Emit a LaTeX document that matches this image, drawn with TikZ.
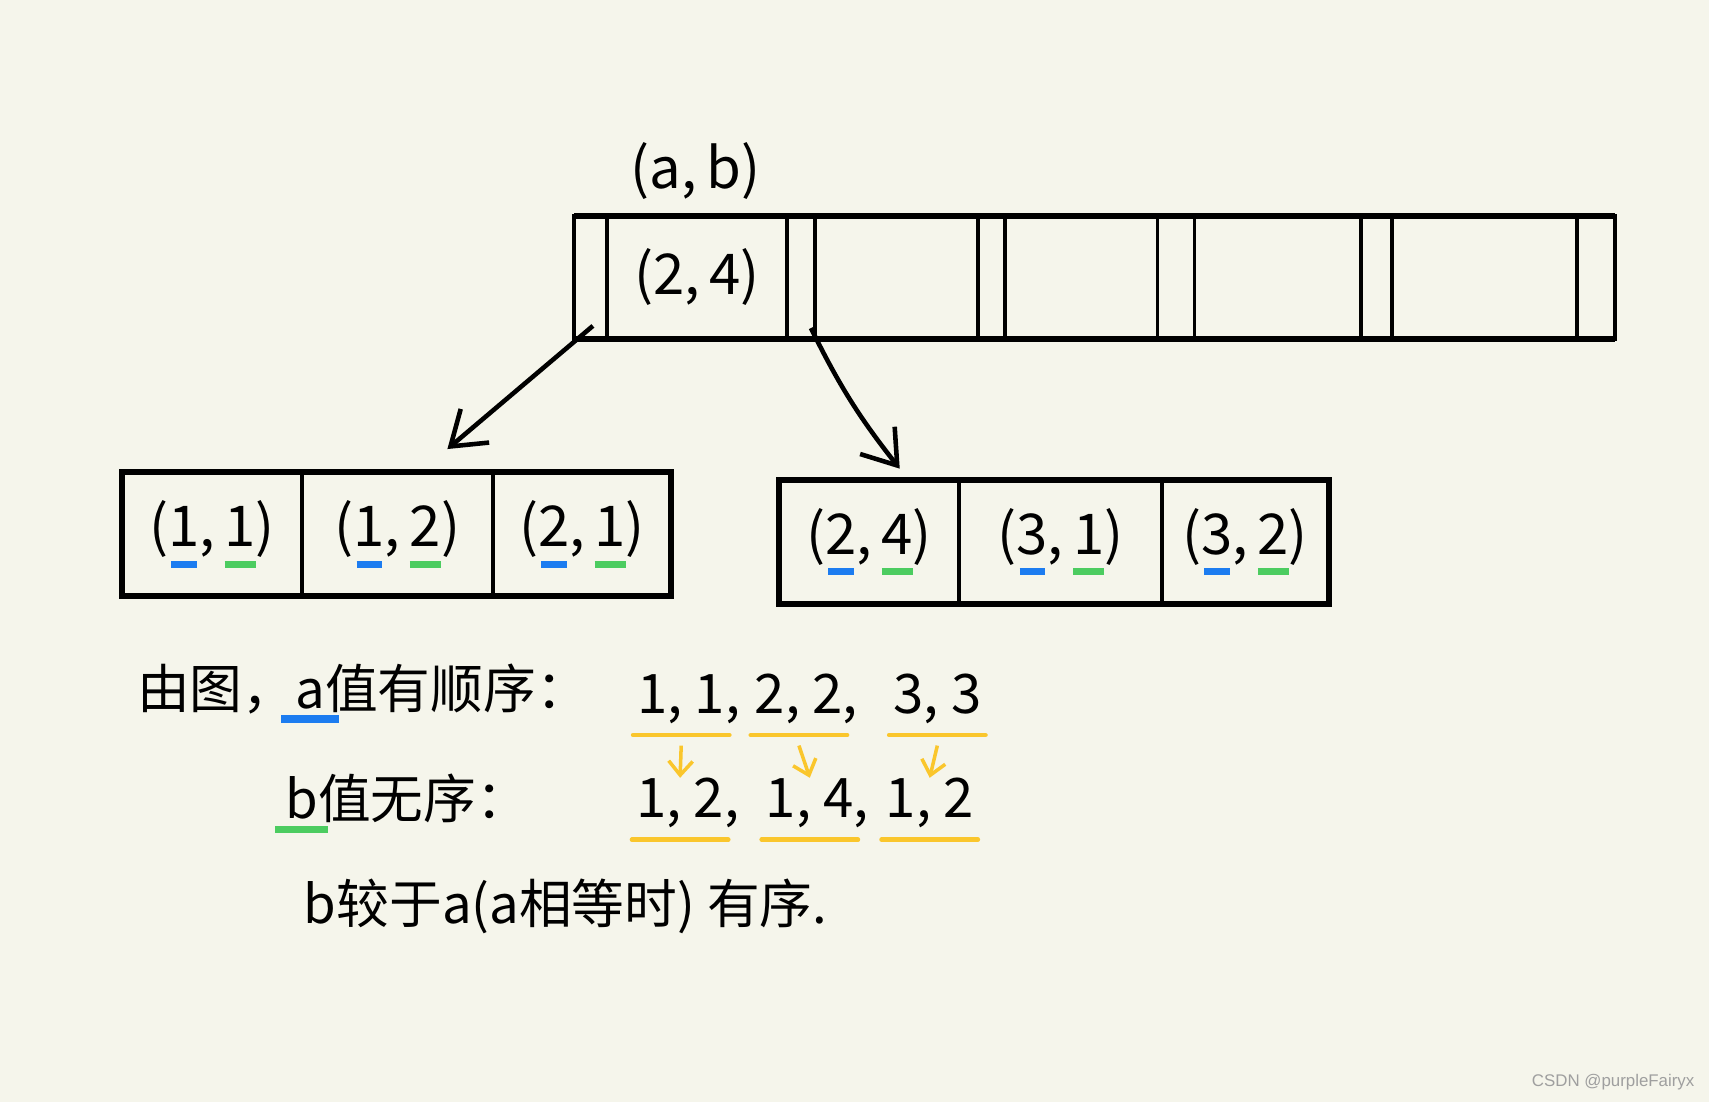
\documentclass[tikz,border=0pt]{standalone}
\usepackage{fontspec}
\usepackage{xcolor}
\newfontfamily\cjk{Noto Sans CJK SC}
\newfontfamily\wmfont{Liberation Sans}
\usetikzlibrary{arrows.meta,positioning,calc}
\definecolor{paper}{RGB}{245,245,235}
\definecolor{ublue}{RGB}{28,124,240}
\definecolor{ugreen}{RGB}{76,204,96}
\definecolor{uyellow}{RGB}{250,198,44}
\newcommand{\pxl}{0.0109cm}
% coloured dash under one character: [raise]{colour}{width}{text}
\newcommand{\undermark}[4][-6pt]{\setbox0\hbox{#4}\rlap{\hbox to\wd0{\hss\textcolor{#2}{\rule[#1]{#3}{2pt}}\hss}}\box0}

\begin{document}
\begin{tikzpicture}[x=\pxl, y=-\pxl, font=\cjk,
  cell/.style={draw, line width=1.1pt, inner sep=0pt, outer sep=0pt, font=\cjk\fontsize{16}{19}\selectfont},
  slot/.style={cell, minimum height=113*\pxl},
  box/.style={cell, minimum height=114*\pxl},
  rim/.style={line width=1.7pt},
  link/.style={-{Straight Barb[length=3.2mm,width=4.4mm]}, line width=1.3pt},
  txt/.style={inner sep=1pt, font=\cjk\fontsize{15}{18}\selectfont},
  num/.style={inner sep=1pt, text height=0.72em, text depth=0.2em, font=\cjk\fontsize{15.5}{18}\selectfont},
  ymark/.style={uyellow, line width=1.3pt, line cap=round},
  yarrow/.style={-{Straight Barb[length=1.4mm,width=2.4mm]}, uyellow, line width=1pt}
]
\useasboundingbox[fill=paper] (0,0) rectangle (1568,1011);

% top row of keys and pointer slots
\node[txt, font=\cjk\fontsize{16}{19}\selectfont] (ab) at (638,157) {(a,\,b)};
\foreach \n/\c/\w in {p0/542/30, k1/639.5/165, p1/735/26, k2/822.5/149, p2/909.5/25,
    k3/992/140, p3/1079/34, k4/1172.5/153, p4/1263/28, k5/1362/170, p5/1464.5/35}
  \node[slot, minimum width=\w*\pxl] (\n) at (\c,254.5) {};
\node[txt, font=\cjk\fontsize{16}{19}\selectfont] (kt) at (k1) {(2,\,4)};
\draw[rim] (p0.north west) -- (p5.north east) (p0.south west) -- (p5.south east);

% left child
\node[box, minimum width=165*\pxl] (c1) at (194.5,490) {(\undermark{ublue}{0.45em}{1},\,\undermark{ugreen}{0.55em}{1})};
\node[box, minimum width=175*\pxl] (c2) at (364.5,490) {(\undermark{ublue}{0.45em}{1},\,\undermark{ugreen}{0.55em}{2})};
\node[box, minimum width=164*\pxl] (c3) at (534,490) {(\undermark{ublue}{0.45em}{2},\,\undermark{ugreen}{0.55em}{1})};
\draw[rim] (c1.north west) rectangle (c3.south east);

% right child
\node[box, minimum width=165*\pxl] (d1) at (797.5,497) {(\undermark{ublue}{0.45em}{2},\,\undermark{ugreen}{0.55em}{4})};
\node[box, minimum width=186*\pxl] (d2) at (973,497) {(\undermark{ublue}{0.45em}{3},\,\undermark{ugreen}{0.55em}{1})};
\node[box, minimum width=153*\pxl] (d3) at (1142.5,497) {(\undermark{ublue}{0.45em}{3},\,\undermark{ugreen}{0.55em}{2})};
\draw[rim] (d1.north west) rectangle (d3.south east);

\draw[link] ($(p0.south)+(2,-12)$) -- ($(c2.north)+(46,-21)$);
\draw[link] ($(p1.south)+(9,-10)$) to[bend right=6] ($(d1.north)+(28,-10)$);

% notes
\node[txt, anchor=west] (r1) at (122,636) {由图，\undermark[-4pt]{ublue}{1.1em}{a}值有顺序：};
\node[txt, anchor=west] (r2) at (258,737) {\undermark[-4pt]{ugreen}{1em}{b}值无序：};
\node[txt, anchor=west] (r3) at (275,832) {b较于a(a相等时) 有序.};

\node[num] (a1) at (625,646) {1, 1\rlap{,}};
\node[num] (a2) at (733,646) {2, 2\rlap{,}};
\node[num] (a3) at (860,646) {3, 3};
\node[num] (b1) at (624,742) {1, 2\rlap{,}};
\node[num] (b2) at (743,742) {1, 4\rlap{,}};
\node[num] (b3) at (853,742) {1, 2};
\foreach \g in {a1,a2,a3,b1,b2,b3}
  \draw[ymark] ([yshift=-3pt]\g.south west) -- ([yshift=-3pt]\g.south east);
\foreach \g/\h in {a1/b1,a2/b2,a3/b3}
  \draw[yarrow] ([yshift=-6pt]\g.south) -- ([yshift=3pt]\h.north);

\node[font=\wmfont\fontsize{4.8}{6}\selectfont, text=gray!75, anchor=east] (wm) at (1566,993) {CSDN @purpleFairyx};
\end{tikzpicture}
\end{document}
